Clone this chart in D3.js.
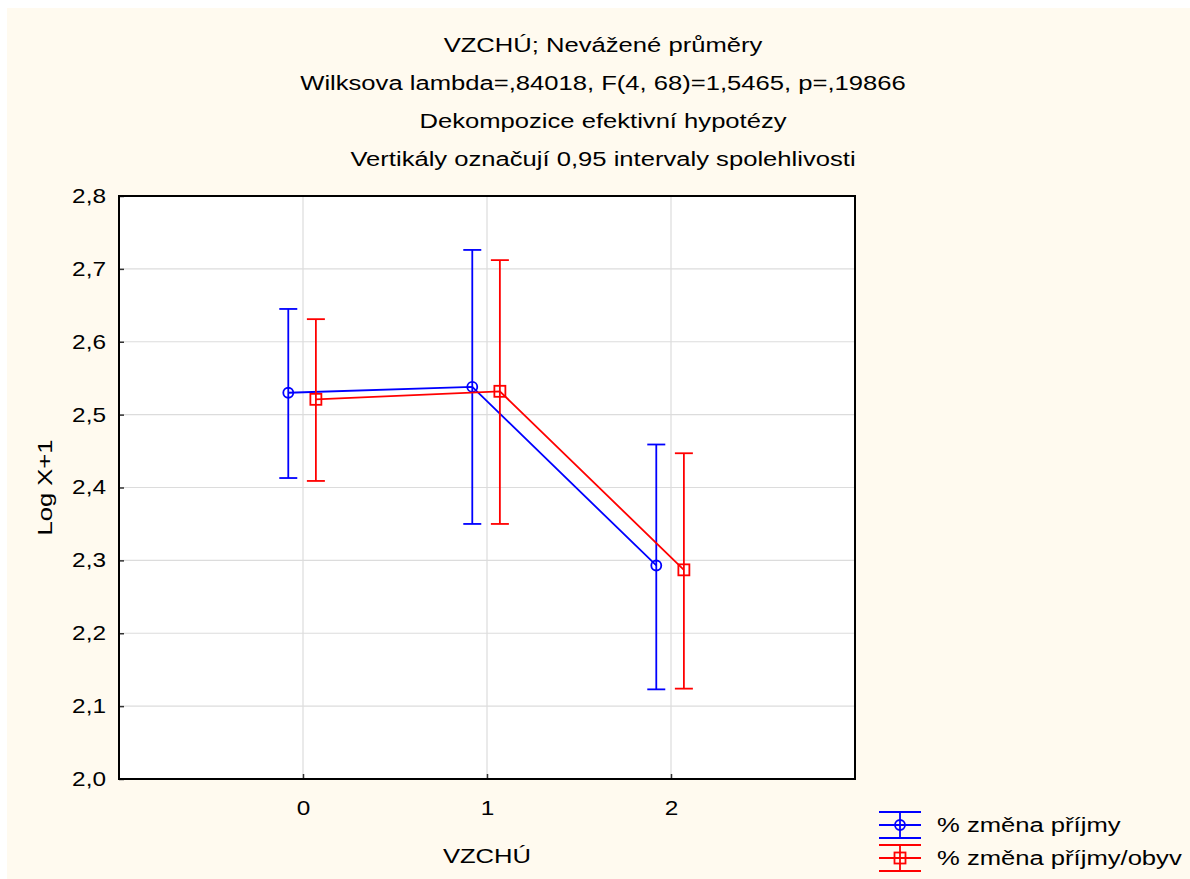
<!DOCTYPE html>
<html>
<head>
<meta charset="utf-8">
<script src="https://cdn.jsdelivr.net/npm/d3@7"></script>
<style>
  body { margin: 0; background: #fff; }
  svg { display: block; }
  text { font-family: "Liberation Sans", Arial, sans-serif; fill: #000; }
</style>
</head>
<body>
<div id="chart"></div>
<script>
// Data
const categories = [0, 1, 2];
const seriesNames = ["% změna příjmy", "% změna příjmy/obyv"];
const prijmyMean  = [2.530, 2.538, 2.293];
const prijmyLower = [2.413, 2.350, 2.123];
const prijmyUpper = [2.645, 2.726, 2.459];
const obyvMean    = [2.521, 2.532, 2.287];
const obyvLower   = [2.409, 2.350, 2.124];
const obyvUpper   = [2.631, 2.712, 2.447];
const yTicks = [2.0, 2.1, 2.2, 2.3, 2.4, 2.5, 2.6, 2.7, 2.8];
const titleLines = [
    "VZCHÚ; Nevážené průměry",
    "Wilksova lambda=,84018, F(4, 68)=1,5465, p=,19866",
    "Dekompozice efektivní hypotézy",
    "Vertikály označují 0,95 intervaly spolehlivosti"
];

// Dimensions
const width = 1190, height = 879;
const margin = { top: 196, right: 335, bottom: 100, left: 119 };
const innerW = width - margin.left - margin.right;
const innerH = height - margin.top - margin.bottom;
const SX = 1.22; // text is horizontally stretched in the original

const series = [
    { name: seriesNames[0], color: "#0000ff", shape: "circle", offset: -0.08,
      mean: prijmyMean, lower: prijmyLower, upper: prijmyUpper },
    { name: seriesNames[1], color: "#ff0000", shape: "square", offset: 0.07,
      mean: obyvMean, lower: obyvLower, upper: obyvUpper }
];

const svg = d3.select("#chart").append("svg")
    .attr("width", width)
    .attr("height", height);

// cream page background
svg.append("rect")
    .attr("x", 7).attr("y", 8)
    .attr("width", width - 7).attr("height", height - 8)
    .attr("fill", "#fffaef");

// helper for stretched text
function label(parent, x, y, str, size, rotate) {
    return parent.append("text")
        .attr("transform", `translate(${x},${y})` + (rotate ? ` rotate(${rotate})` : "") + ` scale(${SX},1)`)
        .attr("text-anchor", "middle")
        .attr("dy", "0.35em")
        .style("font-size", size + "px")
        .text(str);
}

// Titles
titleLines.forEach((t, i) => label(svg, 603, 45 + i * 38, t, 21));

// Scales
const x = d3.scaleLinear().domain([-1, 3]).range([0, innerW]);
const y = d3.scaleLinear().domain([2.0, 2.8]).range([innerH, 0]);
const fmt = v => d3.format(".1f")(v).replace(".", ",");

const g = svg.append("g")
    .attr("transform", `translate(${margin.left},${margin.top})`);

g.append("rect")
    .attr("width", innerW).attr("height", innerH)
    .attr("fill", "#fff");

// Grid
g.append("g").selectAll("line")
    .data(yTicks.slice(1, -1))
    .join("line")
    .attr("x1", 0).attr("x2", innerW)
    .attr("y1", d => y(d)).attr("y2", d => y(d))
    .attr("stroke", "#dcdcdc").attr("stroke-width", 1.2);
g.append("g").selectAll("line")
    .data(categories)
    .join("line")
    .attr("x1", d => x(d)).attr("x2", d => x(d))
    .attr("y1", 0).attr("y2", innerH)
    .attr("stroke", "#dcdcdc").attr("stroke-width", 1.2);

// Axes
const yAxis = g.append("g")
    .call(d3.axisLeft(y).tickValues(yTicks).tickFormat(fmt).tickSizeInner(-5).tickSizeOuter(0).tickPadding(13));
const xAxis = g.append("g")
    .attr("transform", `translate(0,${innerH})`)
    .call(d3.axisBottom(x).tickValues(categories).tickFormat(d3.format("d")).tickSizeInner(-5).tickSizeOuter(0).tickPadding(29));
[yAxis, xAxis].forEach(a => {
    a.select(".domain").remove();
    a.selectAll(".tick line").attr("stroke", "#333").attr("stroke-width", 1.5);
    a.selectAll("text").style("font-size", "20px")
        .style("font-family", "'Liberation Sans', Arial, sans-serif").attr("fill", "#000");
});
yAxis.selectAll("text").attr("x", -13 / SX).attr("transform", `scale(${SX},1)`);
xAxis.selectAll("text").attr("y", 29).attr("dy", "0.35em").attr("transform", `scale(${SX},1)`)
    .attr("x", d => 0);

// Plot frame
g.append("rect")
    .attr("width", innerW).attr("height", innerH)
    .attr("fill", "none").attr("stroke", "#000").attr("stroke-width", 2);

// Axis titles
label(svg, 45, margin.top + innerH / 2, "Log X+1", 21, -90);
label(svg, x(1) + margin.left, 856, "VZCHÚ", 21);

// Series
const cap = 9;
series.forEach(s => {
    const sg = g.append("g").attr("stroke", s.color).attr("fill", "none").attr("stroke-width", 1.8);
    const pts = categories.map((c, i) => ({ c, m: s.mean[i], lo: s.lower[i], hi: s.upper[i] }));
    const px = d => x(d.c + s.offset);

    sg.append("path")
        .attr("d", d3.line().x(px).y(d => y(d.m))(pts));

    const bars = sg.selectAll(".bar").data(pts).join("g").attr("class", "bar");
    bars.append("line")
        .attr("x1", px).attr("x2", px)
        .attr("y1", d => y(d.lo)).attr("y2", d => y(d.hi));
    bars.append("line")
        .attr("x1", d => px(d) - cap).attr("x2", d => px(d) + cap)
        .attr("y1", d => y(d.hi)).attr("y2", d => y(d.hi));
    bars.append("line")
        .attr("x1", d => px(d) - cap).attr("x2", d => px(d) + cap)
        .attr("y1", d => y(d.lo)).attr("y2", d => y(d.lo));
    if (s.shape === "circle") {
        bars.append("circle").attr("cx", px).attr("cy", d => y(d.m)).attr("r", 5);
    } else {
        bars.append("rect").attr("x", d => px(d) - 5.5).attr("y", d => y(d.m) - 5.5)
            .attr("width", 11).attr("height", 11);
    }
});

// Legend
const legend = svg.append("g");
series.forEach((s, i) => {
    const cy = 825 + i * 33;
    const lg = legend.append("g").attr("stroke", s.color).attr("fill", "none").attr("stroke-width", 1.8);
    [-13, 0, 13].forEach(dy => {
        lg.append("line").attr("x1", 879).attr("x2", 921).attr("y1", cy + dy).attr("y2", cy + dy);
    });
    lg.append("line").attr("x1", 900).attr("x2", 900).attr("y1", cy - 13).attr("y2", cy + 13);
    if (s.shape === "circle") {
        lg.append("circle").attr("cx", 900).attr("cy", cy).attr("r", 5);
    } else {
        lg.append("rect").attr("x", 894.5).attr("y", cy - 5.5).attr("width", 11).attr("height", 11);
    }
    legend.append("text")
        .attr("transform", `translate(937,${cy}) scale(${SX},1)`)
        .attr("dy", "0.35em")
        .style("font-size", "21px")
        .text(s.name);
});
</script>
</body>
</html>
